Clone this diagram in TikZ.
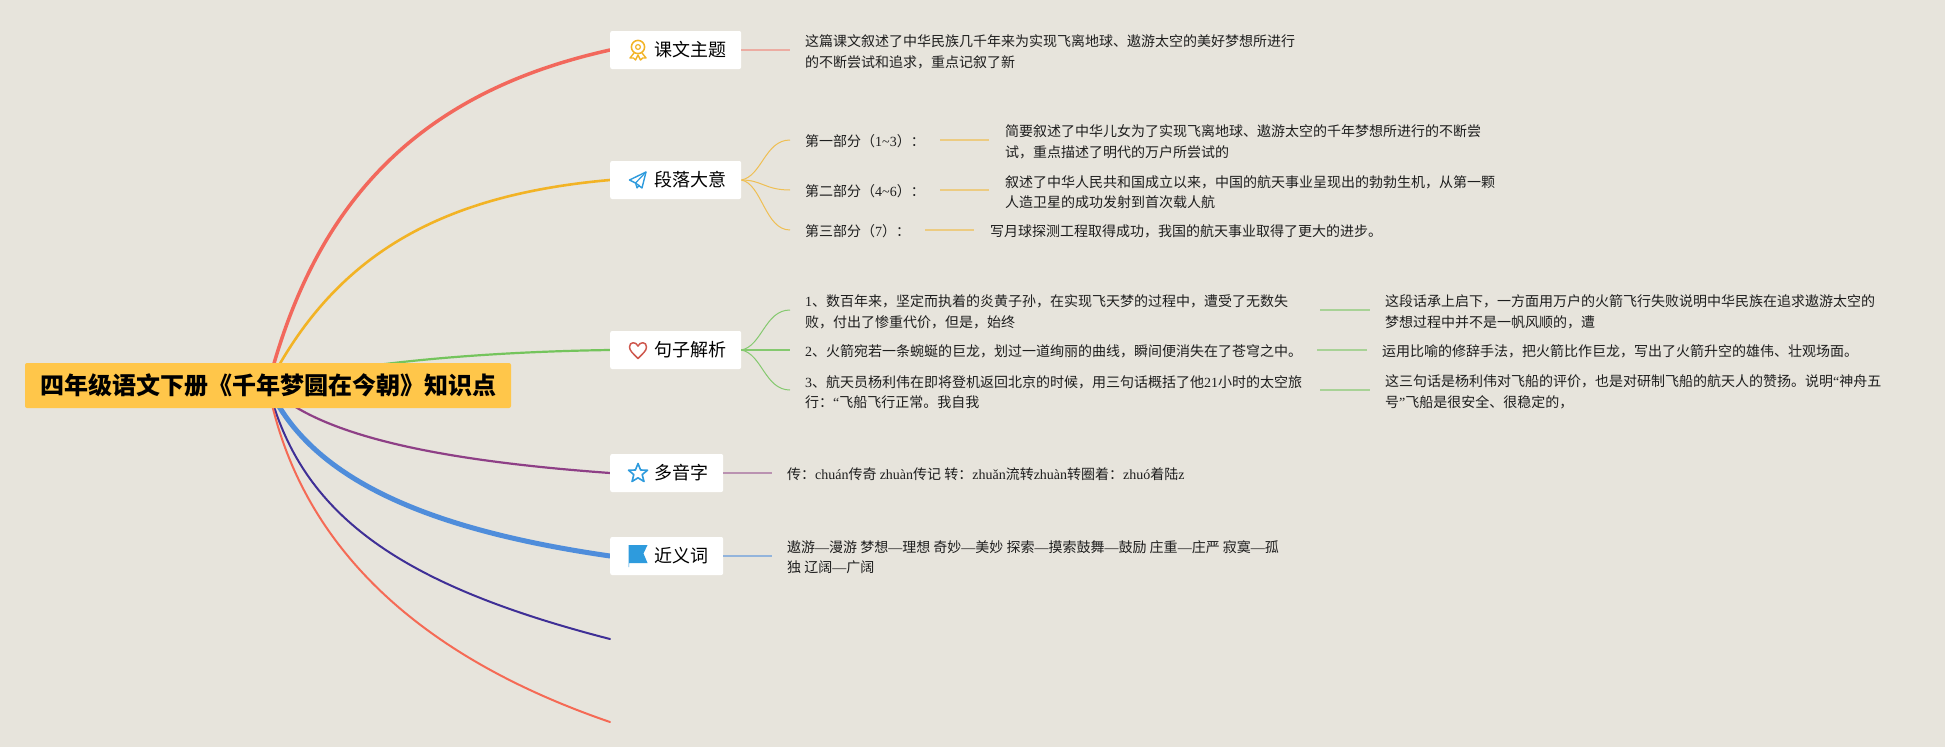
\documentclass[tikz,border=0pt]{standalone}
\usepackage{fontspec}
\setmainfont{Noto Sans CJK SC}
\newfontfamily\latnfont{Liberation Serif}
\newcommand{\latn}[1]{{\latnfont #1}}
\newcommand{\toplabel}[1]{\hspace*{44pt}\raisebox{-3.5pt}{#1}\hspace*{15pt}}
\usetikzlibrary{backgrounds}
\definecolor{bgc}{HTML}{E7E4DC}
\definecolor{rootc}{HTML}{FFC64A}
\definecolor{redc}{HTML}{F2685C}
\definecolor{yelc}{HTML}{F2B325}
\definecolor{grnc}{HTML}{74C45C}
\definecolor{purc}{HTML}{8E3F86}
\definecolor{bluc}{HTML}{4F8DDB}
\definecolor{navc}{HTML}{3F2F96}
\definecolor{corc}{HTML}{F56A55}
\definecolor{txtc}{HTML}{1E1E1E}
\definecolor{icob}{HTML}{2E9BDD}
\tikzset{
  x=1pt,y=-1pt,
  rootbox/.style={fill=rootc,rounded corners=2pt,inner sep=0pt,minimum height=45pt,minimum width=486pt,anchor=center,font=\fontsize{24}{28}\selectfont\bfseries,text=black},
  topicbox/.style={fill=white,rounded corners=2pt,inner sep=0pt,minimum height=38pt,anchor=west,font=\fontsize{18}{22}\selectfont,text=black},
  txt/.style={inner sep=0pt,anchor=west,align=left,font=\fontsize{14}{20.5}\selectfont,text=txtc},
  main/.style={line cap=round},
  sub/.style={line width=1pt},
  link/.style={line width=1.6pt},
  ribbonicon/.pic={
    \draw[yelc,line width=1.5pt] (0,-3) circle (6.6);
    \draw[yelc,line width=1.2pt] (0,-3) circle (2.4);
    \draw[yelc,line width=1.4pt,line join=round] (-4,3) -- (-8,8) -- (-4.5,8) -- (-2.5,10) -- (0,5) -- (2.5,10) -- (4.5,8) -- (8,8) -- (4,3);
  },
  planeicon/.pic={
    \draw[icob,line width=1.4pt,line join=round] (8,-8) -- (-8.5,0) -- (-2.5,3) -- (4,8) -- cycle;
    \draw[icob,line width=1.2pt,line join=round] (8,-8) -- (-2.5,3) -- (-1,8) -- (1.5,5);
  },
  hearticon/.pic={
    \draw[redc!85!black,line width=1.5pt,line join=round] (0,8) .. controls (-5,3) and (-8.5,0) .. (-8.5,-3.5) .. controls (-8.5,-9) and (-2,-9) .. (0,-4.5) .. controls (2,-9) and (8.5,-9) .. (8.5,-3.5) .. controls (8.5,0) and (5,3) .. (0,8) -- cycle;
  },
  staricon/.pic={
    \draw[icob,line width=1.6pt,line join=round] (0,-9.5) -- (2.6,-3) -- (9.5,-2.8) -- (4.2,1.6) -- (6,8.5) -- (0,4.8) -- (-6,8.5) -- (-4.2,1.6) -- (-9.5,-2.8) -- (-2.6,-3) -- cycle;
  },
  flagicon/.pic={
    \fill[icob] (-9.5,-11) -- (9.5,-11) -- (5.5,-2.5) -- (9.5,7) -- (-9,7) -- (-9,11) -- (-9.5,11) -- cycle;
  },
}
\begin{document}
\begin{tikzpicture}
\useasboundingbox (0,0) rectangle (1945,747);

% nodes
\node[rootbox] (root) at (268,385.5) {四年级语文下册《千年梦圆在今朝》知识点};
\node[topicbox] (theme) at (610,50) {\toplabel{课文主题}};
\node[topicbox] (para) at (610,180) {\toplabel{段落大意}};
\node[topicbox] (sent) at (610,350) {\toplabel{句子解析}};
\node[topicbox] (poly) at (610,473) {\toplabel{多音字}};
\node[topicbox] (syn) at (610,556) {\toplabel{近义词}};
\coordinate (endA) at (610,639);
\coordinate (endB) at (610,722);

% icons
\pic at (638,50) {ribbonicon};
\pic at (638,180) {planeicon};
\pic at (638,350.5) {hearticon};
\pic at (638,473) {staricon};
\pic at (638,556) {flagicon};

% texts
\node[txt] (themeT) at (805,52) {这篇课文叙述了中华民族几千年来为实现飞离地球、遨游太空的美好梦想所进行\\的不断尝试和追求，重点记叙了新};
\node[txt] (p1) at (805,141.5) {第一部分（\latn{1\char`\~3}）：};
\node[txt] (p2) at (805,191.5) {第二部分（\latn{4\char`\~6}）：};
\node[txt] (p3) at (805,231) {第三部分（\latn{7}）：};
\node[txt] (p1T) at (1005,142) {简要叙述了中华儿女为了实现飞离地球、遨游太空的千年梦想所进行的不断尝\\试，重点描述了明代的万户所尝试的};
\node[txt] (p2T) at (1005,192) {叙述了中华人民共和国成立以来，中国的航天事业呈现出的勃勃生机，从第一颗\\人造卫星的成功发射到首次载人航};
\node[txt] (p3T) at (990,231) {写月球探测工程取得成功，我国的航天事业取得了更大的进步。};
\node[txt] (s1) at (805,312) {\latn{1}、数百年来，坚定而执着的炎黄子孙，在实现飞天梦的过程中，遭受了无数失\\败，付出了惨重代价，但是，始终};
\node[txt] (s2) at (805,351) {\latn{2}、火箭宛若一条蜿蜒的巨龙，划过一道绚丽的曲线，瞬间便消失在了苍穹之中。};
\node[txt] (s3) at (805,392) {\latn{3}、航天员杨利伟在即将登机返回北京的时候，用三句话概括了他\latn{21}小时的太空旅\\行：\latn{“}飞船飞行正常。我自我};
\node[txt] (s1T) at (1385,312) {这段话承上启下，一方面用万户的火箭飞行失败说明中华民族在追求遨游太空的\\梦想过程中并不是一帆风顺的，遭};
\node[txt] (s2T) at (1382,351) {运用比喻的修辞手法，把火箭比作巨龙，写出了火箭升空的雄伟、壮观场面。};
\node[txt] (s3T) at (1385,392) {这三句话是杨利伟对飞船的评价，也是对研制飞船的航天人的赞扬。说明\latn{“}神舟五\\号\latn{”}飞船是很安全、很稳定的，};
\node[txt] (polyT) at (787,474) {传：\latn{chuán}传奇 \latn{zhuàn}传记 转：\latn{zhuǎn}流转\latn{zhuàn}转圈着：\latn{zhuó}着陆\latn{z}};
\node[txt] (synT) at (787,557) {遨游\latn{—}漫游 梦想\latn{—}理想 奇妙\latn{—}美妙 探索\latn{—}摸索鼓舞\latn{—}鼓励 庄重\latn{—}庄严 寂寞\latn{—}孤\\独 辽阔\latn{—}广阔};

% connector ends
\foreach \n/\x/\y in {a1/741/50,a2/790/50,
  y1/790/140,y2/790/190,y3/790/230,
  g1/790/310,g2/790/350,g3/790/390,
  ly1a/940/140,ly1b/989/140,ly2a/940/190,ly2b/989/190,ly3a/925/230,ly3b/974/230,
  lg1a/1320/310,lg1b/1370/310,lg2a/1317/350,lg2b/1367/350,lg3a/1320/390,lg3b/1370/390,
  pa/723/473,pb/772/473,sa/723/556,sb/772/556}
  \coordinate (\n) at (\x,\y);

\begin{scope}[on background layer]
  \fill[bgc] (0,0) rectangle (1945,747);
  \draw[main,redc,line width=3.5pt] (root.center) .. controls (318,190) and (430,90) .. (theme.west);
  \draw[main,yelc,line width=2.6pt] (root.center) .. controls (335,255) and (440,195) .. (para.west);
  \draw[main,grnc,line width=2.2pt] (root.center) .. controls (340,365) and (470,352) .. (sent.west);
  \draw[main,purc,line width=2.2pt] (root.center) .. controls (320,440) and (460,462) .. (poly.west);
  \draw[main,bluc,line width=5pt] (root.center) .. controls (310,480) and (430,530) .. (syn.west);
  \draw[main,navc,line width=2pt] (root.center) .. controls (300,515) and (400,585) .. (endA);
  \draw[main,corc,line width=2pt] (root.center) .. controls (295,530) and (400,650) .. (endB);
\end{scope}

\draw[link,redc!45!bgc] (a1) -- (a2);
\draw[sub,yelc!75!bgc] (para.east) .. controls (762,176) and (765,140) .. (y1);
\draw[sub,yelc!75!bgc] (para.east) .. controls (762,180) and (765,190) .. (y2);
\draw[sub,yelc!75!bgc] (para.east) .. controls (762,184) and (765,230) .. (y3);
\draw[link,yelc!50!bgc] (ly1a) -- (ly1b);
\draw[link,yelc!50!bgc] (ly2a) -- (ly2b);
\draw[link,yelc!50!bgc] (ly3a) -- (ly3b);
\draw[sub,grnc!85!bgc] (sent.east) .. controls (762,346) and (765,310) .. (g1);
\draw[sub,grnc!85!bgc,line width=1.3pt] (sent.east) -- (g2);
\draw[sub,grnc!85!bgc] (sent.east) .. controls (762,354) and (765,390) .. (g3);
\draw[link,grnc!55!bgc] (lg1a) -- (lg1b);
\draw[link,grnc!55!bgc] (lg2a) -- (lg2b);
\draw[link,grnc!55!bgc] (lg3a) -- (lg3b);
\draw[link,purc!50!bgc] (pa) -- (pb);
\draw[link,bluc!55!bgc] (sa) -- (sb);
\end{tikzpicture}
\end{document}
